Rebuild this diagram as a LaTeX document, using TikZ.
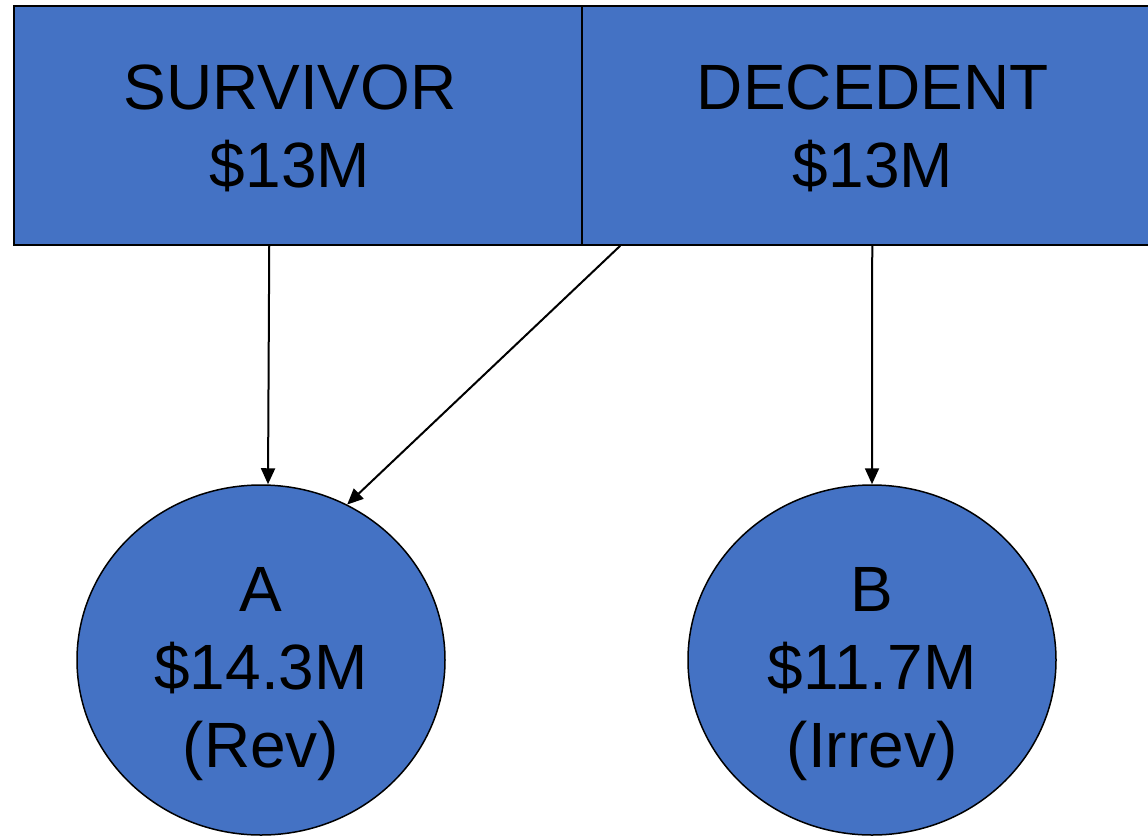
\documentclass[tikz,border=0pt]{standalone}
\usepackage{fontspec}
\setmainfont{Liberation Sans}
\usetikzlibrary{shapes.geometric,arrows.meta,calc}
\definecolor{boxblue}{HTML}{4472C4}
\begin{document}
\begin{tikzpicture}[x=1pt,y=-1pt,
  box/.style={rectangle,draw=black,line width=1.5pt,fill=boxblue,inner sep=0pt},
  trust/.style={ellipse,draw=black,line width=1.5pt,fill=boxblue,inner sep=0pt,
    minimum width=368pt,minimum height=350pt},
  txt/.style={inner sep=0pt,align=center,font=\fontsize{64}{78}\selectfont},
  conn/.style={line width=2pt,-{Triangle[length=16pt,width=14pt]}}]
\useasboundingbox (0,0) rectangle (1148,836);
\clip (0,0) rectangle (1148,836);
\node[box,minimum width=568pt,minimum height=239pt] (surv) at (298,125.5) {};
\node[box,minimum width=582pt,minimum height=239pt] (dec) at (873,125.5) {};
\node[txt] (survt) at ($(surv.center)+(-8,3)$) {SURVIVOR\\\$13M};
\node[txt] (dect) at ($(dec.center)+(0,3)$) {DECEDENT\\\$13M};
\node[trust] (A) at (261,660) {};
\node[trust] (B) at (872,660) {};
\node[txt] (At) at ($(A.center)+(0,14)$) {A\\\$14.3M\\(Rev)};
\node[txt] (Bt) at ($(B.center)+(0,14)$) {B\\\$11.7M\\(Irrev)};
\draw[conn] ($(surv.south west)+(256,0)$) -- ([xshift=7pt]A.north);
\draw[conn] ($(dec.south west)+(39,0)$) -- (A.61);
\draw[conn] ($(dec.south west)+(291,0)$) -- (B.north);
\end{tikzpicture}
\end{document}
